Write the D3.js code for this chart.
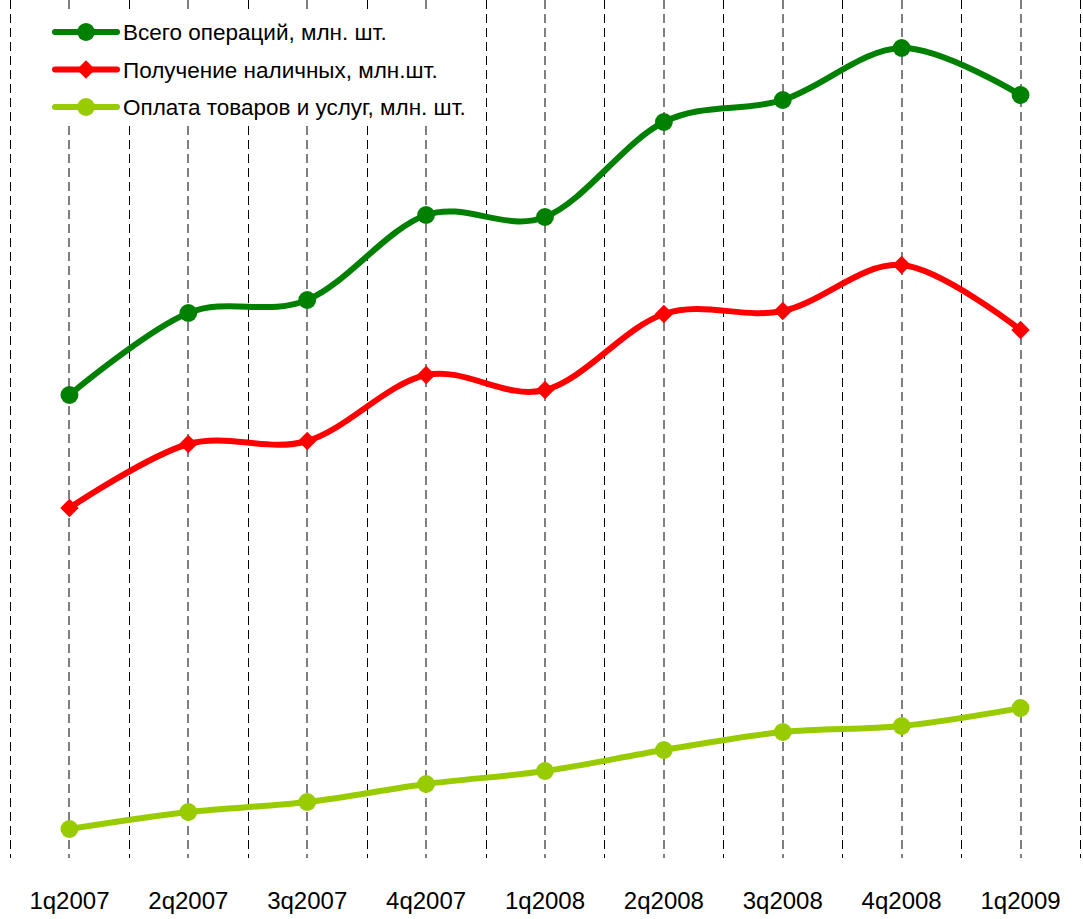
<!DOCTYPE html>
<html>
<head>
<meta charset="utf-8">
<script src="https://cdn.jsdelivr.net/npm/d3@7"></script>
<style>
  body { margin: 0; background: #fff; }
  text { font-family: "Liberation Sans", Arial, sans-serif; }
</style>
</head>
<body>
<div class="chart"></div>
<script>
// data (млн. шт.)
var quarters = ["1q2007", "2q2007", "3q2007", "4q2007", "1q2008", "2q2008", "3q2008", "4q2008", "1q2009"];
var totalOps = [109.6, 126.0, 128.6, 145.6, 145.2, 164.2, 168.6, 179.0, 169.6];
var cashOps = [87.0, 99.8, 100.4, 113.6, 110.6, 125.8, 126.4, 135.6, 122.6];
var payOps = [22.8, 26.2, 28.2, 31.8, 34.4, 38.6, 42.2, 43.4, 47.0];
var seriesNames = ["Всего операций, млн. шт.", "Получение наличных, млн.шт.", "Оплата товаров и услуг, млн. шт."];

var svgWidth = 1083;
var svgHeight = 919;

var svg = d3.select(".chart")
  .append("svg")
  .attr("width", svgWidth)
  .attr("height", svgHeight);

var gridBottom = 858;

var xScale = d3.scaleBand()
  .domain(quarters)
  .range([10, 1080])
  .padding(0);

var yScale = d3.scaleLinear()
  .domain([0, 188.6])
  .range([943, 0]);

// dashed vertical grid: at band edges and band centres
var edges = quarters.map(q => xScale(q)).concat([xScale.range()[1]]);
var centres = quarters.map(q => xScale(q) + xScale.bandwidth() / 2);

svg.append("g").selectAll("line.edge")
  .data(edges)
  .enter()
  .append("line")
  .attr("x1", d => Math.round(d) + 0.5)
  .attr("x2", d => Math.round(d) + 0.5)
  .attr("y1", 0)
  .attr("y2", gridBottom)
  .attr("stroke", "#000")
  .attr("stroke-width", 1)
  .attr("stroke-dasharray", "9,5");

svg.append("g").selectAll("line.centre")
  .data(centres)
  .enter()
  .append("line")
  .attr("x1", d => Math.round(d))
  .attr("x2", d => Math.round(d))
  .attr("y1", 0)
  .attr("y2", gridBottom)
  .attr("stroke", "#000")
  .attr("stroke-width", 1)
  .attr("stroke-dasharray", "9,5");

// x labels
var xAxis = d3.axisBottom(xScale).tickSize(0).tickPadding(0);
var xAxisG = svg.append("g")
  .attr("transform", `translate(0, 892)`)
  .call(xAxis);
xAxisG.select(".domain").remove();
xAxisG.selectAll("text")
  .attr("font-family", "\"Liberation Sans\", Arial, sans-serif")
  .attr("font-size", "24px")
  .attr("fill", "#000");

var series = [
  { name: seriesNames[0], values: totalOps, color: "#008000", marker: "circle" },
  { name: seriesNames[1], values: cashOps, color: "#ff0000", marker: "diamond" },
  { name: seriesNames[2], values: payOps, color: "#99cc00", marker: "circle" }
];

var line = d3.line()
  .x((d, i) => xScale(quarters[i]) + xScale.bandwidth() / 2)
  .y(d => yScale(d))
  .curve(d3.curveCardinal.tension(0));

var circleSym = d3.symbol().type(d3.symbolCircle).size(250);
var squareSym = d3.symbol().type(d3.symbolSquare).size(170);

function markTransform(x, y, marker) {
  return `translate(${x}, ${y})` + (marker === "diamond" ? " rotate(45)" : "");
}

series.forEach(function(s) {
  var g = svg.append("g");
  g.append("path")
    .datum(s.values)
    .attr("d", line)
    .attr("fill", "none")
    .attr("stroke", s.color)
    .attr("stroke-width", 6)
    .attr("stroke-linecap", "round");

  g.selectAll("path.mark")
    .data(s.values)
    .enter()
    .append("path")
    .attr("class", "mark")
    .attr("transform", (d, i) => markTransform(xScale(quarters[i]) + xScale.bandwidth() / 2, yScale(d), s.marker))
    .attr("d", s.marker === "circle" ? circleSym() : squareSym())
    .attr("fill", s.color);
});

// legend with white backing
var legend = svg.append("g");
legend.append("rect")
  .attr("x", 46)
  .attr("y", 12)
  .attr("width", 424)
  .attr("height", 112)
  .attr("fill", "#fff");

series.forEach(function(s, i) {
  var y = 32 + i * 37.5;
  legend.append("line")
    .attr("x1", 55)
    .attr("x2", 117)
    .attr("y1", y)
    .attr("y2", y)
    .attr("stroke", s.color)
    .attr("stroke-width", 6)
    .attr("stroke-linecap", "round");
  legend.append("path")
    .attr("transform", markTransform(86, y, s.marker))
    .attr("d", s.marker === "circle" ? circleSym() : squareSym())
    .attr("fill", s.color);
  legend.append("text")
    .attr("x", 123)
    .attr("y", y)
    .attr("dy", "0.36em")
    .attr("font-size", "22.5px")
    .attr("fill", "#000")
    .text(s.name);
});
</script>
</body>
</html>
